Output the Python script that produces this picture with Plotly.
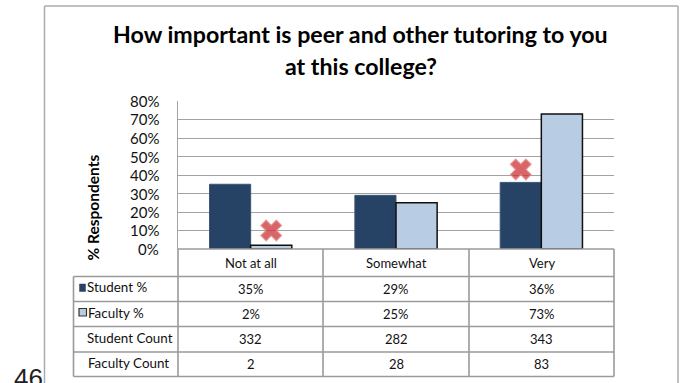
import plotly.graph_objects as go

categories = ["Not at all", "Somewhat", "Very"]
student_pct = [35, 29, 36]
faculty_pct = [2, 25, 73]
student_count = [332, 282, 343]
faculty_count = [2, 28, 83]
flag_category = [0, 2]
flag_side = [1, -1]
flag_value = [10, 43]
row_labels = ["Student %", "Faculty %", "Student Count", "Faculty Count"]
title_lines = ["How important is peer and other tutoring to you", "at this college?"]
corner_text = "46"

W, H = 681, 383
FONT = "Lato"
GREY = "#a3a3a3"
DARK = "#264264"
LIGHT = "#b8cce4"
INK = "#111111"

def px(x): return x / W
def py(y): return 1 - y / H

L, R, T, B = 178, 614, 101, 249
cols = [178, 323, 469, 614]
rows = [249, 276.5, 301.5, 326.5, 352, 376.5]
TL = 73.5
BW = 0.283

fig = go.Figure()
x0 = list(range(len(categories)))
fig.add_bar(x=x0, y=student_pct, width=BW, offset=-BW,
            marker=dict(color=DARK, line=dict(color="#3a5578", width=1)), showlegend=False)
fig.add_bar(x=x0, y=faculty_pct, width=BW, offset=0,
            marker=dict(color=LIGHT, line=dict(color="#101010", width=1.5)), showlegend=False)
fig.add_scatter(x=[c + s * BW / 2 for c, s in zip(flag_category, flag_side)], y=flag_value,
                mode="markers", showlegend=False,
                marker=dict(symbol="x", size=18, color="rgba(205,50,55,0.75)",
                            line=dict(color="rgba(225,130,130,0.7)", width=1.5)))

ann = []
def text(x, y, s, size=13, bold=False, color=INK, angle=0, xanchor="center", family=FONT):
    ann.append(dict(x=px(x), y=py(y), xref="paper", yref="paper", text=f"<b>{s}</b>" if bold else s,
                    showarrow=False, xanchor=xanchor, yanchor="middle", textangle=angle,
                    font=dict(family=family, size=size, color=color)))

text(360.5, 34, title_lines[0], size=23.2, bold=True, color="#000000")
text(360.5, 66, title_lines[1], size=23.2, bold=True, color="#000000")
text(92, 207.5, "% Respondents", size=15.5, bold=True, color="#000000", angle=-90)
text(12, 377.5, corner_text, size=26, xanchor="left", family="Liberation Sans", color="#222222")

for v in range(0, 90, 10):
    text(161, B - v * (B - T) / 80, f"{v}%", size=15, xanchor="right")

centers = [(cols[i] + cols[i + 1]) / 2 for i in range(3)]
for c, cat in zip(centers, categories):
    text(c, 262.5, cat, size=13)
table_vals = [[f"{v}%" for v in student_pct], [f"{v}%" for v in faculty_pct],
              [str(v) for v in student_count], [str(v) for v in faculty_count]]
for r, row in enumerate(table_vals):
    ym = (rows[r + 1] + rows[r + 2]) / 2
    for c, val in zip(centers, row):
        text(c, ym, val, size=13)
text(85, 287, row_labels[0], size=13.4, xanchor="left")
text(86, 312.5, row_labels[1], size=13.4, xanchor="left")
text(85, 338, row_labels[2], size=13.4, xanchor="left")
text(86, 363, row_labels[3], size=13.4, xanchor="left")

shapes = []
def line(a, b, c, d, color=GREY, width=1.3):
    shapes.append(dict(type="line", xref="paper", yref="paper", x0=px(a), y0=py(b), x1=px(c), y1=py(d),
                       line=dict(color=color, width=width)))
def box(a, b, c, d, fill, lc, lw):
    shapes.append(dict(type="rect", xref="paper", yref="paper", x0=px(a), y0=py(b), x1=px(c), y1=py(d),
                       fillcolor=fill, line=dict(color=lc, width=lw)))

# outer frame
line(44.5, 6, 678, 6, "#ababab", 1.5)
line(44.5, 6, 44.5, 383, "#ababab", 1.5)
line(678, 6, 678, 383, "#ababab", 1.5)
# table
line(L, rows[0], R, rows[0], "#9a9a9a", 1.6)
for y in rows[1:]:
    line(TL, y, R, y, "#9a9a9a", 1.6)
line(TL, rows[1], TL, rows[-1], "#9a9a9a", 1.6)
for x in cols:
    line(x, rows[0], x, rows[-1], "#9a9a9a", 1.6)
# legend keys
box(79.5, 284, 85.5, 291.5, DARK, DARK, 0.5)
box(79, 308.5, 86.5, 316, LIGHT, "#333333", 1.2)

fig.update_layout(
    width=W, height=H, autosize=False, margin=dict(l=0, r=0, t=0, b=0),
    paper_bgcolor="white", plot_bgcolor="white", barmode="overlay",
    annotations=ann, shapes=shapes, showlegend=False,
    xaxis=dict(domain=[px(L), px(R)], range=[-0.5, 2.5], showticklabels=False, ticks="",
               showgrid=False, zeroline=False, fixedrange=True),
    yaxis=dict(domain=[py(B), py(T)], range=[0, 80], dtick=10, showticklabels=False, ticks="",
               showgrid=True, gridcolor=GREY, gridwidth=1.3, zeroline=False, showline=True,
               linecolor=GREY, linewidth=1.3, fixedrange=True),
)
fig.write_html("out.html", config=dict(displayModeBar=False),
               post_script="document.body.style.margin='0';document.body.style.overflow='hidden';")
